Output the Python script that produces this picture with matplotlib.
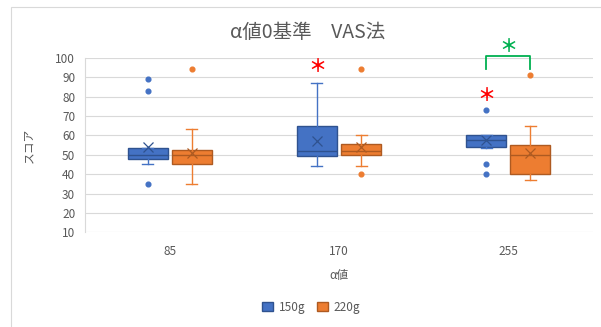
"""Box plot of VAS scores per alpha value (150g vs 220g)."""
import matplotlib
matplotlib.use("Agg")
import matplotlib.pyplot as plt
from matplotlib.patches import Patch, Rectangle

plt.rcParams["font.family"] = ["Noto Sans CJK JP", "DejaVu Sans"]

# ── data ──────────────────────────────────────────────────────────────────
categories = ["85", "170", "255"]

g150_q1 = [48.0, 49.2, 54.1]
g150_med = [50.0, 52.1, 57.6]
g150_q3 = [53.6, 64.6, 60.0]
g150_lo = [45.2, 44.0, 53.3]
g150_hi = [53.6, 87.0, 60.0]
g150_mean = [53.8, 57.0, 57.5]
g150_fliers = [[89, 83, 35], [], [73, 45, 40]]

g220_q1 = [45.4, 49.7, 40.0]
g220_med = [50.0, 52.0, 49.7]
g220_q3 = [52.3, 55.7, 54.8]
g220_lo = [35.0, 44.0, 36.8]
g220_hi = [63.1, 60.0, 64.8]
g220_mean = [51.0, 53.8, 51.0]
g220_fliers = [[94.2], [94.2, 40], [91.1]]

# significance marks over the 150g boxes: (category index, y value)
red_marks = [(1, 95.4), (2, 80.6)]
bracket_cat = 2
bracket_low, bracket_top = 94.2, 101.0
green_mark_y = 105.7

BLUE, BLUE_DARK = "#4472C4", "#2F528F"
ORANGE, ORANGE_DARK = "#ED7D31", "#AE5A21"
GRID = "#D9D9D9"
TXT = "#595959"
OFFSET = 0.13
WIDTH = 0.236


def make_stats(q1, med, q3, lo, hi, mean, fliers):
    return [
        dict(q1=a, med=b, q3=c, whislo=d, whishi=e, mean=f, fliers=g)
        for a, b, c, d, e, f, g in zip(q1, med, q3, lo, hi, mean, fliers)
    ]


def draw(ax, stats, positions, fill, edge):
    ax.bxp(
        stats,
        positions=positions,
        widths=WIDTH,
        capwidths=0.065,
        patch_artist=True,
        showmeans=True,
        boxprops=dict(facecolor=fill, edgecolor=edge, linewidth=1.0),
        medianprops=dict(color=edge, linewidth=1.0),
        whiskerprops=dict(color=fill, linewidth=1.0),
        capprops=dict(color=fill, linewidth=1.0),
        meanprops=dict(marker="x", markeredgecolor=edge, markersize=7, markeredgewidth=0.9),
        flierprops=dict(marker="o", markerfacecolor=fill, markeredgecolor=fill, markersize=3.4),
        manage_ticks=False,
    )


fig = plt.figure(figsize=(6.01, 3.27), dpi=100)
ax = fig.add_axes([0.1414, 0.2896, 0.8453, 0.5339])

x = list(range(len(categories)))
draw(ax, make_stats(g150_q1, g150_med, g150_q3, g150_lo, g150_hi, g150_mean, g150_fliers),
     [i - OFFSET for i in x], BLUE, BLUE_DARK)
draw(ax, make_stats(g220_q1, g220_med, g220_q3, g220_lo, g220_hi, g220_mean, g220_fliers),
     [i + OFFSET for i in x], ORANGE, ORANGE_DARK)

# ── significance annotations ──────────────────────────────────────────────
for cat, y in red_marks:
    ax.text(cat - OFFSET, y, "＊", color="red", fontsize=13, fontweight="bold",
            ha="center", va="center", clip_on=False)
bx = [bracket_cat - OFFSET, bracket_cat - OFFSET, bracket_cat + OFFSET, bracket_cat + OFFSET]
ax.plot(bx, [bracket_low, bracket_top, bracket_top, bracket_low],
        color="#00B050", linewidth=1.3, clip_on=False)
ax.text(bracket_cat, green_mark_y, "＊", color="#00B050", fontsize=13, fontweight="bold",
        ha="center", va="center", clip_on=False)

# ── axes styling ──────────────────────────────────────────────────────────
ax.set_xlim(-0.5, 2.5)
ax.set_ylim(10, 100)
ax.set_yticks(range(10, 101, 10))
ax.set_xticks(x)
ax.set_xticklabels(categories)
ax.tick_params(axis="both", length=0, labelsize=8.5, labelcolor=TXT)
ax.tick_params(axis="y", pad=7)
ax.tick_params(axis="x", pad=9)
ax.grid(axis="y", color=GRID, linewidth=0.8)
ax.set_axisbelow(True)
for side in ("top", "right", "bottom"):
    ax.spines[side].set_visible(False)
ax.spines["left"].set_color(GRID)
ax.spines["left"].set_linewidth(0.8)

ax.set_xlabel("α値", fontsize=8.5, color=TXT, va="center")
ax.xaxis.set_label_coords(0.5, -0.245)
ax.set_ylabel("スコア", fontsize=8.5, color=TXT, va="center")
ax.yaxis.set_label_coords(-0.11, 0.5)

fig.text(0.512, 1 - 32.5 / 327, "α値0基準　VAS法", fontsize=14, color=TXT,
         ha="center", va="center")

handles = [Patch(facecolor=BLUE, edgecolor=BLUE_DARK, label="150g"),
           Patch(facecolor=ORANGE, edgecolor=ORANGE_DARK, label="220g")]
fig.legend(handles=handles, loc="center", bbox_to_anchor=(0.5175, 1 - 307 / 327),
           ncol=2, frameon=False, fontsize=8.5, labelcolor=TXT,
           handlelength=0.9, handleheight=0.9, handletextpad=0.5, columnspacing=1.0)

# chart area border (cropped on the right and bottom)
fig.patches.append(Rectangle((11 / 601, -0.1), 1.2, 1.1 - 7 / 327,
                             transform=fig.transFigure, fill=False,
                             edgecolor=GRID, linewidth=0.8))

fig.savefig("out.png", dpi=100)
